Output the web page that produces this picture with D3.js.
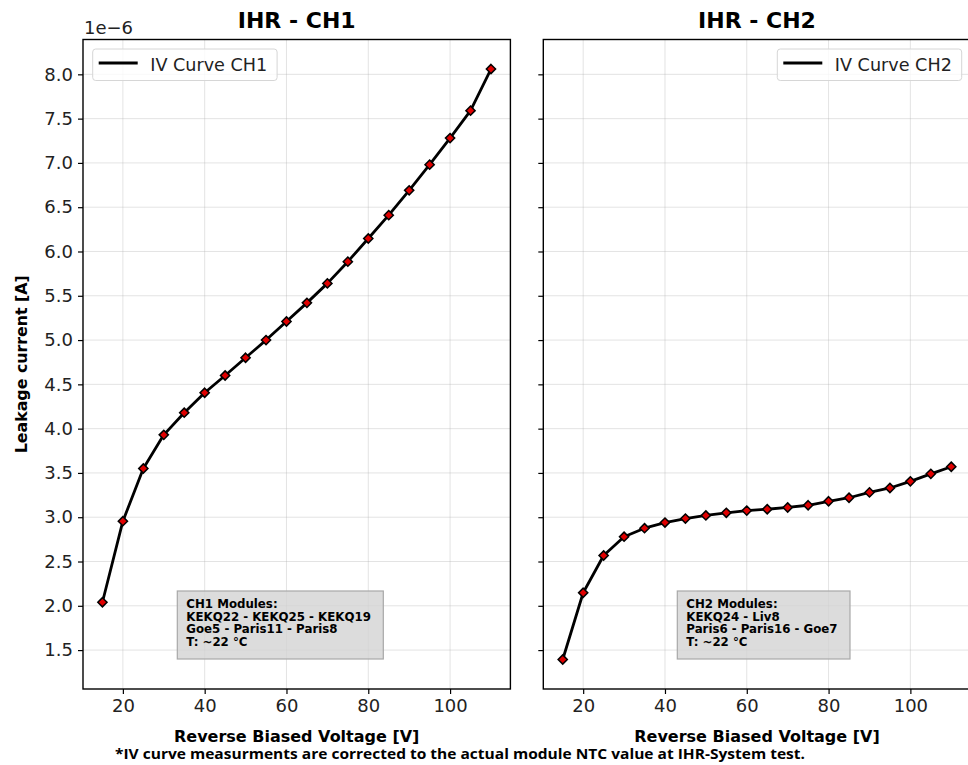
<!DOCTYPE html>
<html>
<head>
<meta charset="utf-8">
<script src="https://cdn.jsdelivr.net/npm/d3@7"></script>
<style>
  body { margin: 0; background: #fff; }
  svg { display: block; font-family: "DejaVu Sans", sans-serif; }
</style>
</head>
<body>
<div id="chart"></div>
<script>
// reverse bias voltage steps (same for both channels)
var voltages = [15, 20, 25, 30, 35, 40, 45, 50, 55, 60, 65, 70, 75, 80, 85, 90, 95, 100, 105, 110];

// leakage current in units of 1e-6 A
var currentCH1 = [2.04, 2.955, 3.55, 3.93, 4.18, 4.405, 4.60, 4.80, 5.00, 5.21, 5.42, 5.64, 5.885, 6.147, 6.41, 6.69, 6.98, 7.28, 7.59, 8.06];
var currentCH2 = [1.394, 2.147, 2.568, 2.78, 2.876, 2.94, 2.985, 3.02, 3.05, 3.075, 3.09, 3.11, 3.135, 3.18, 3.22, 3.28, 3.33, 3.405, 3.49, 3.57];

var xTicks = [20, 40, 60, 80, 100];
var yTicks = [1.5, 2.0, 2.5, 3.0, 3.5, 4.0, 4.5, 5.0, 5.5, 6.0, 6.5, 7.0, 7.5, 8.0];

var titles = ["IHR - CH1", "IHR - CH2"];
var legendLabels = ["IV Curve CH1", "IV Curve CH2"];
var boxLines = [
  ["CH1 Modules:", "KEKQ22 - KEKQ25 - KEKQ19", "Goe5 - Paris11 - Paris8", "T: ~22 \u00B0C"],
  ["CH2 Modules:", "KEKQ24 - Liv8", "Paris6 - Paris16 - Goe7", "T: ~22 \u00B0C"]
];
var footnote = "*IV curve measurments are corrected to the actual module NTC value at IHR-System test.";

var width = 968, height = 765;
var plotTop = 39.5, plotBottom = 689;
var panelW = 427.4;
var panelLeft = [83, 543.3];

var svg = d3.select("#chart").append("svg")
  .attr("width", width)
  .attr("height", height);

// shared y scale, matplotlib style 5% margins
var allY = currentCH1.concat(currentCH2);
var yMin = d3.min(allY), yMax = d3.max(allY);
var yPad = (yMax - yMin) * 0.05;
var y = d3.scaleLinear()
  .domain([yMin - yPad, yMax + yPad])
  .range([plotBottom, plotTop]);

var xPad = (d3.max(voltages) - d3.min(voltages)) * 0.05;

function panel(i, values) {
  var x0 = panelLeft[i];
  var x = d3.scaleLinear()
    .domain([d3.min(voltages) - xPad, d3.max(voltages) + xPad])
    .range([x0, x0 + panelW]);

  var g = svg.append("g");

  // grid
  g.append("g").selectAll("line").data(xTicks).join("line")
    .attr("x1", function(d) { return x(d); })
    .attr("x2", function(d) { return x(d); })
    .attr("y1", plotTop).attr("y2", plotBottom)
    .attr("stroke", "#b0b0b0").attr("stroke-opacity", 0.35).attr("stroke-width", 1);
  g.append("g").selectAll("line").data(yTicks).join("line")
    .attr("x1", x0).attr("x2", x0 + panelW)
    .attr("y1", function(d) { return y(d); })
    .attr("y2", function(d) { return y(d); })
    .attr("stroke", "#b0b0b0").attr("stroke-opacity", 0.35).attr("stroke-width", 1);

  // info box
  var bx = x0 + [94.3, 134][i];
  var bw = [206, 172.7][i];
  g.append("rect")
    .attr("x", bx).attr("y", 591)
    .attr("width", bw).attr("height", 68)
    .attr("fill", "#d3d3d3").attr("fill-opacity", 0.8)
    .attr("stroke", "#a8a8a8").attr("stroke-width", 1.2);
  g.append("text")
    .attr("x", bx + 9).attr("y", 608)
    .attr("font-size", 11.8).attr("font-weight", "bold")
    .selectAll("tspan").data(boxLines[i]).join("tspan")
      .attr("x", bx + 9)
      .attr("dy", function(d, j) { return j === 0 ? 0 : 12.5; })
      .text(function(d) { return d; });

  // curve
  var line = d3.line()
    .x(function(d, j) { return x(voltages[j]); })
    .y(function(d) { return y(d); });
  g.append("path")
    .datum(values)
    .attr("fill", "none")
    .attr("stroke", "#000")
    .attr("stroke-width", 2.8)
    .attr("stroke-linejoin", "round")
    .attr("d", line);
  g.append("g").selectAll("path").data(values).join("path")
    .attr("transform", function(d, j) { return "translate(" + x(voltages[j]) + "," + y(d) + ")"; })
    .attr("d", "M0,-4.6L4.6,0L0,4.6L-4.6,0Z")
    .attr("fill", "#e00000")
    .attr("stroke", "#000")
    .attr("stroke-width", 1.5);

  // axes
  var xAxis = d3.axisBottom(x).tickValues(xTicks).tickSize(5).tickPadding(5).tickFormat(d3.format("d"));
  var gx = g.append("g").attr("transform", "translate(0," + plotBottom + ")").call(xAxis);
  gx.select(".domain").remove();
  gx.selectAll("text").attr("font-size", 18).attr("font-family", "DejaVu Sans").attr("fill", "#222");
  gx.selectAll("line").attr("stroke", "#000").attr("stroke-width", 1.2);

  var yAxis = d3.axisLeft(y).tickValues(yTicks).tickSize(5).tickPadding(5)
    .tickFormat(i === 0 ? d3.format(".1f") : "");
  var gy = g.append("g").attr("transform", "translate(" + x0 + ",0)").call(yAxis);
  gy.select(".domain").remove();
  gy.selectAll("text").attr("font-size", 18).attr("font-family", "DejaVu Sans").attr("fill", "#222");
  gy.selectAll("line").attr("stroke", "#000").attr("stroke-width", 1.2);

  // frame
  g.append("rect")
    .attr("x", x0).attr("y", plotTop)
    .attr("width", panelW).attr("height", plotBottom - plotTop)
    .attr("fill", "none").attr("stroke", "#000").attr("stroke-width", 1.4);

  // legend
  var lw = 184.4;
  var lx = i === 0 ? x0 + 9.7 : x0 + panelW - 9 - lw;
  var lg = g.append("g").attr("transform", "translate(" + lx + ",49)");
  lg.append("rect")
    .attr("width", lw).attr("height", 31.5).attr("rx", 3)
    .attr("fill", "#fff").attr("fill-opacity", 0.8)
    .attr("stroke", "#d6d6d6").attr("stroke-width", 1);
  lg.append("line")
    .attr("x1", 6).attr("x2", 45).attr("y1", 14).attr("y2", 14)
    .attr("stroke", "#000").attr("stroke-width", 2.8);
  lg.append("text")
    .attr("x", 57.5).attr("y", 21.5)
    .attr("font-size", 17.6).attr("fill", "#222")
    .text(legendLabels[i]);

  // title
  g.append("text")
    .attr("x", x0 + panelW / 2).attr("y", 28)
    .attr("text-anchor", "middle")
    .attr("font-size", 22).attr("font-weight", "bold")
    .text(titles[i]);

  // x label
  g.append("text")
    .attr("x", x0 + panelW / 2).attr("y", 741.5)
    .attr("text-anchor", "middle")
    .attr("font-size", 16).attr("font-weight", "bold")
    .text("Reverse Biased Voltage [V]");
}

panel(0, currentCH1);
panel(1, currentCH2);

// offset text
svg.append("text")
  .attr("x", 84).attr("y", 34)
  .attr("font-size", 18).attr("fill", "#222")
  .text("1e\u22126");

// y label
svg.append("text")
  .attr("transform", "translate(27," + ((plotTop + plotBottom) / 2) + ") rotate(-90)")
  .attr("text-anchor", "middle")
  .attr("font-size", 15.8).attr("font-weight", "bold")
  .text("Leakage current [A]");

// footnote
svg.append("text")
  .attr("x", 115).attr("y", 759)
  .attr("font-family", "'Open Sans', sans-serif")
  .attr("font-size", 14).attr("font-weight", "bold")
  .attr("textLength", 690).attr("lengthAdjust", "spacingAndGlyphs")
  .text(footnote);
</script>
</body>
</html>
